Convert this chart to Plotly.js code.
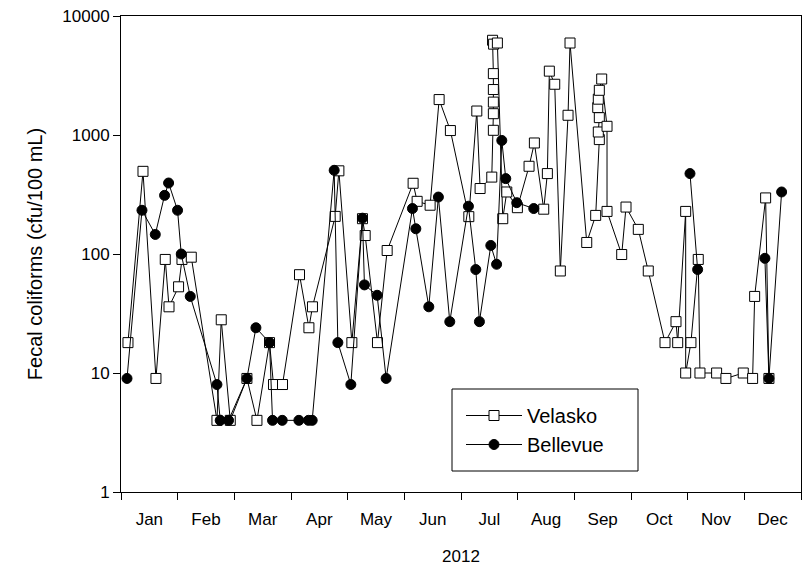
<!DOCTYPE html>
<html>
<head>
<meta charset="utf-8">
<script src="https://cdn.plot.ly/plotly-3.0.1.min.js"></script>
<style>html,body{margin:0;padding:0;background:#fff;}#chart{width:805px;height:577px;}</style>
</head>
<body>
<div id="chart"></div>
<script>
// Month labels (equal-width months on the x axis, position in month units: 0 = 1 Jan, 12 = 31 Dec)
const monthLabels = ['Jan','Feb','Mar','Apr','May','Jun','Jul','Aug','Sep','Oct','Nov','Dec'];

// Velasko sampling positions (month units) and fecal coliform counts (cfu/100 mL)
const velaskoX = [0.123,0.388,0.617,0.781,0.847,1.016,1.076,1.240,1.693,1.769,1.928,2.222,2.399,2.621,2.691,2.850,
  3.150,3.316,3.379,3.780,3.845,4.074,4.261,4.309,4.526,4.697,5.155,5.226,5.455,5.614,5.813,6.138,6.279,6.337,
  6.543,6.571,6.571,6.571,6.571,6.571,6.557,6.575,6.642,6.737,6.808,6.995,7.201,7.295,7.460,7.524,7.559,7.654,
  7.753,7.889,7.924,8.219,8.377,8.441,8.423,8.441,8.413,8.423,8.441,8.483,8.577,8.577,8.836,8.912,9.129,9.305,
  9.600,9.794,9.824,9.965,9.965,10.058,10.187,10.217,10.511,10.675,10.981,11.146,11.182,11.376,11.434];
const velaskoY = [18,495,9,90,36,53,90,94,4,28,4,9,4,18,8,8,
  67,24,36,207,500,18,198,143,18,107,393,277,257,1985,1090,206,1590,355,
  443,1095,1510,1890,2410,3280,6250,5800,5930,198,332,245,546,857,238,474,3440,2670,
  72,1465,5930,125,211,915,1060,1400,1700,2000,2375,2955,1183,228,99,248,161,72,
  18,27,18,228,10,18,90,10,10,9,10,9,44,296,9];

// Bellevue sampling positions (month units) and counts; null = no samples (line gap)
const bellevueX = [0.106,0.370,0.605,0.769,0.840,0.998,1.063,1.222,1.693,1.751,1.898,2.222,2.381,2.621,2.674,2.845,
  3.139,3.309,3.374,3.762,3.827,4.056,4.261,4.296,4.520,4.679,5.143,5.203,5.432,5.601,5.802,6.131,6.261,6.325,
  6.526,6.628,6.720,6.790,6.984,7.284,null,10.041,10.176,null,11.363,11.434,11.658];
const bellevueY = [9,233,146,311,395,233,100,44,8,4,4,9,24,18,4,4,
  4,4,4,505,18,8,200,55,45,9,241,163,36,301,27,252,74,27,
  118,82,900,430,270,241,null,474,74,null,92,9,332];

const yTickVals = [1,10,100,1000,10000];
const yTickText = ['1','10','100','1000','10000'];

const FONT = 'Liberation Sans, Arial, Helvetica, sans-serif';
const monthTickPos = monthLabels.map((m,i)=>i+0.5);
const monthEdges = [0,1,2,3,4,5,6,7,8,9,10,11,12];

const traces = [
  {
    x: velaskoX, y: velaskoY, name: 'Velasko', type: 'scatter', mode: 'lines+markers',
    line: {color:'#000', width:1},
    marker: {symbol:'square', size:10, color:'#fff', line:{color:'#000', width:1}},
    cliponaxis:false
  },
  {
    x: bellevueX, y: bellevueY, name: 'Bellevue', type: 'scatter', mode: 'lines+markers',
    connectgaps: false,
    line: {color:'#000', width:1},
    marker: {symbol:'circle', size:10, color:'#000', line:{color:'#000', width:1}},
    cliponaxis:false
  },
  {
    x:[0], y:[1], xaxis:'x2', yaxis:'y', mode:'markers', type:'scatter',
    marker:{opacity:0}, showlegend:false, hoverinfo:'skip'
  }
];

const layout = {
  width: 805, height: 577,
  margin: {l:121, r:4, t:16, b:85},
  paper_bgcolor:'#fff', plot_bgcolor:'#fff',
  font: {family: FONT, color:'#000', size:17},
  showlegend: true,
  legend: {
    x: (461-121)/680, y: (492-396)/476, xanchor:'left', yanchor:'top',
    bgcolor:'rgba(0,0,0,0)', borderwidth:0,
    font:{family:FONT, size:20, color:'#000'},
    traceorder:'normal', itemwidth:56
  },
  xaxis: {
    range:[0,12], tickmode:'array', tickvals: monthTickPos, ticktext: monthLabels,
    ticks:'outside', ticklen:12, tickcolor:'rgba(0,0,0,0)',
    showline:true, linecolor:'#000', linewidth:1, mirror:true,
    showgrid:false, zeroline:false, automargin:false,
    tickfont:{family:FONT, size:17, color:'#000'},
    title:{text:'2012', font:{family:FONT, size:17, color:'#000'}, standoff:21}
  },
  xaxis2: {
    overlaying:'x', anchor:'y', side:'bottom', range:[0,12],
    tickmode:'array', tickvals: monthEdges, ticks:'outside', ticklen:7, tickwidth:1, tickcolor:'#000',
    showticklabels:false, showline:false, showgrid:false, zeroline:false
  },
  yaxis: {
    type:'log', range:[0,4], tickmode:'array', tickvals:yTickVals, ticktext:yTickText,
    ticks:'outside', ticklen:7, tickwidth:1, tickcolor:'#000',
    showline:true, linecolor:'#000', linewidth:1, mirror:true,
    showgrid:false, zeroline:false, automargin:false,
    tickfont:{family:FONT, size:17, color:'#000'},
    title:{text:'Fecal coliforms (cfu/100 mL)', font:{family:FONT, size:20, color:'#000'}, standoff:14}
  },
  shapes: [
    {type:'rect', xref:'paper', yref:'paper', layer:'below',
     x0:(452-121)/680, x1:(638-121)/680, y0:(492-471)/476, y1:(492-389)/476,
     line:{color:'#000', width:1}, fillcolor:'rgba(0,0,0,0)'}
  ]
};

Plotly.newPlot('chart', traces, layout, {staticPlot:true, displayModeBar:false});
</script>
</body>
</html>
